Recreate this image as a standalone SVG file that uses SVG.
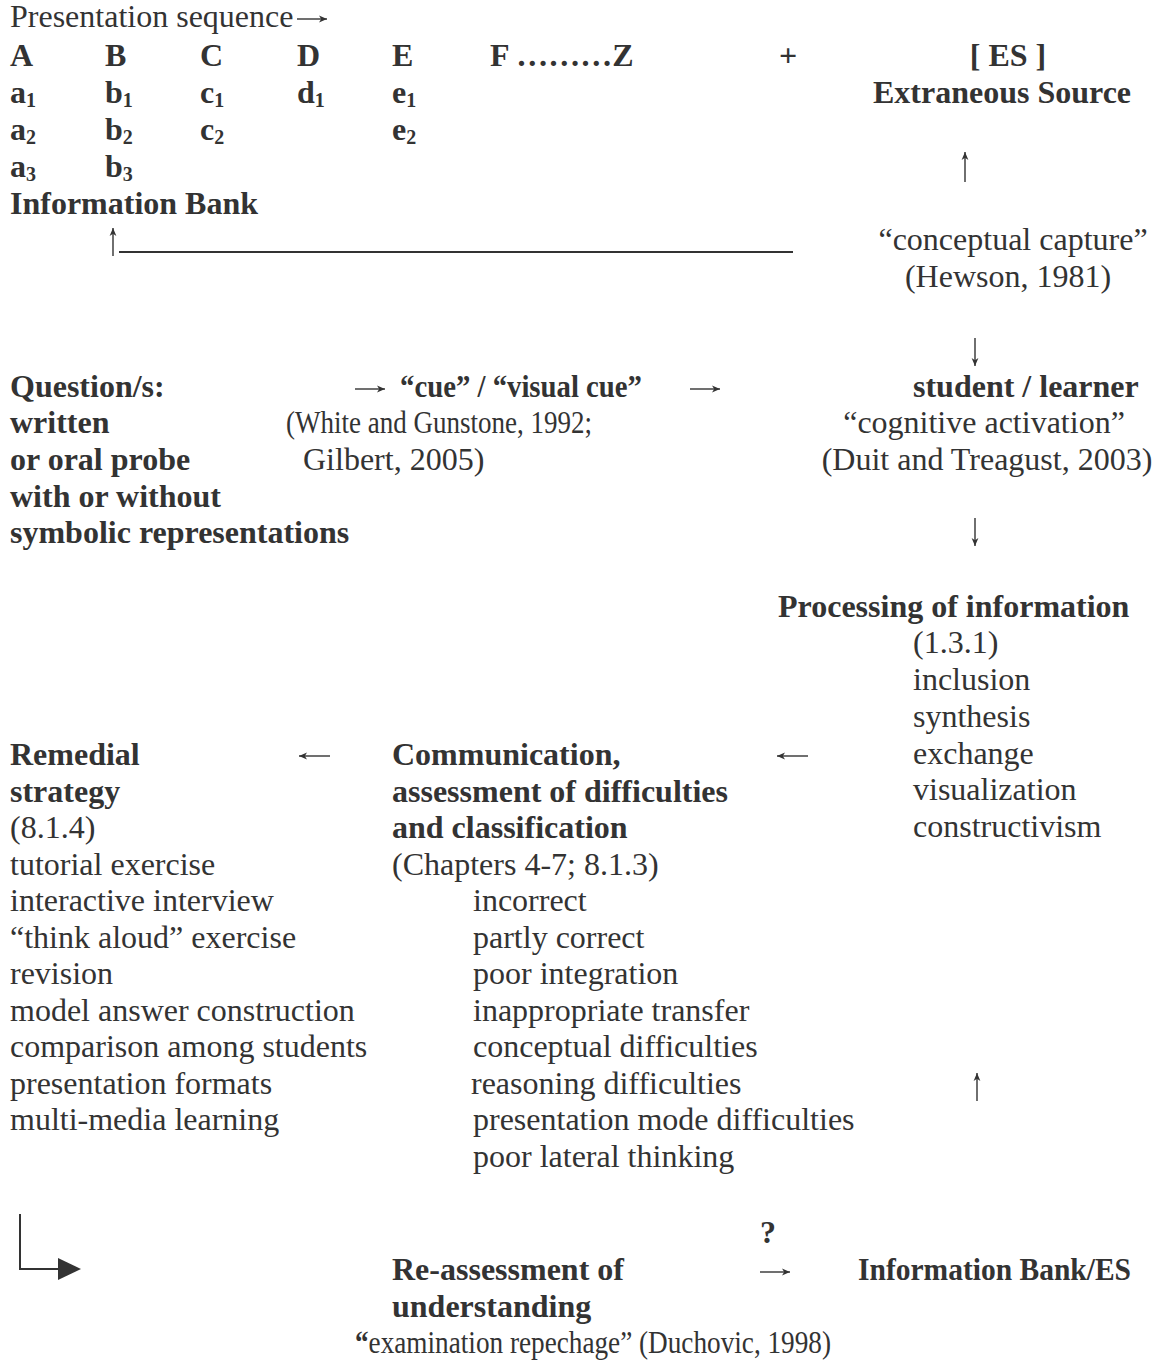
<svg xmlns="http://www.w3.org/2000/svg" width="1162" height="1362" viewBox="0 0 1162 1362">
  <style>
    text { font-family: "Liberation Serif", "Times New Roman", serif; font-size: 32px; fill: #333; }
    .b { font-weight: bold; }
    .s { font-size: 20px; }
    .line { stroke: #333; stroke-width: 2; fill: none; }
    .arr { stroke: #333; stroke-width: 1.4; fill: none; marker-end: url(#ah); }
  </style>
  <defs>
    <marker id="ah" viewBox="0 0 8 8" refX="8" refY="4" markerWidth="8" markerHeight="8" markerUnits="userSpaceOnUse" orient="auto">
      <path d="M0,0.6 L8,4 L0,7.4 L2.2,4 z" fill="#333"/>
    </marker>
  </defs>
  <rect width="1162" height="1362" fill="#fff"/>

  <!-- information bank: presentation sequence -->
  <g id="information-bank">
    <text x="10" y="27">Presentation sequence</text>
    <text class="b" x="10" y="66">A</text>
    <text class="b" x="105" y="66">B</text>
    <text class="b" x="200" y="66">C</text>
    <text class="b" x="297" y="66">D</text>
    <text class="b" x="392" y="66">E</text>
    <text class="b" x="490" y="66">F ………Z</text>
    <text class="b" x="10" y="103">a<tspan class="s" dy="4">1</tspan></text>
    <text class="b" x="105" y="103">b<tspan class="s" dy="4">1</tspan></text>
    <text class="b" x="200" y="103">c<tspan class="s" dy="4">1</tspan></text>
    <text class="b" x="297" y="103">d<tspan class="s" dy="4">1</tspan></text>
    <text class="b" x="392" y="103">e<tspan class="s" dy="4">1</tspan></text>
    <text class="b" x="10" y="140">a<tspan class="s" dy="4">2</tspan></text>
    <text class="b" x="105" y="140">b<tspan class="s" dy="4">2</tspan></text>
    <text class="b" x="200" y="140">c<tspan class="s" dy="4">2</tspan></text>
    <text class="b" x="392" y="140">e<tspan class="s" dy="4">2</tspan></text>
    <text class="b" x="10" y="177">a<tspan class="s" dy="4">3</tspan></text>
    <text class="b" x="105" y="177">b<tspan class="s" dy="4">3</tspan></text>
    <text class="b" x="10" y="214">Information Bank</text>
  </g>

  <g id="plus">
    <text class="b" x="779" y="66">+</text>
  </g>

  <!-- extraneous source -->
  <g id="extraneous-source">
    <text class="b" x="1008" y="66" text-anchor="middle">[ ES ]</text>
    <text class="b" x="1002" y="103" text-anchor="middle">Extraneous Source</text>
  </g>

  <g id="conceptual-capture">
    <text x="1013" y="250" text-anchor="middle">“conceptual capture”</text>
    <text x="1008" y="287" text-anchor="middle">(Hewson, 1981)</text>
  </g>

  <!-- question / cue / learner row -->
  <g id="question">
    <text class="b" x="10" y="397">Question/s:</text>
    <text class="b" x="10" y="433">written</text>
    <text class="b" x="10" y="470">or oral probe</text>
    <text class="b" x="10" y="507">with or without</text>
    <text class="b" x="10" y="543">symbolic representations</text>
  </g>

  <g id="cue">
    <text class="b" x="400" y="397" textLength="242" lengthAdjust="spacingAndGlyphs">“cue” / “visual cue”</text>
    <text x="286" y="433" textLength="306" lengthAdjust="spacingAndGlyphs">(White and Gunstone, 1992;</text>
    <text x="303" y="470">Gilbert, 2005)</text>
  </g>

  <g id="learner">
    <text class="b" x="913" y="397">student / learner</text>
    <text x="984" y="433" text-anchor="middle">“cognitive activation”</text>
    <text x="987" y="470" text-anchor="middle">(Duit and Treagust, 2003)</text>
  </g>

  <!-- processing -->
  <g id="processing">
    <text class="b" x="778" y="617">Processing of information</text>
    <text x="913" y="653">(1.3.1)</text>
    <text x="913" y="690">inclusion</text>
    <text x="913" y="727">synthesis</text>
    <text x="913" y="764">exchange</text>
    <text x="913" y="800">visualization</text>
    <text x="913" y="837">constructivism</text>
  </g>

  <!-- communication and assessment -->
  <g id="communication">
    <text class="b" x="392" y="765">Communication,</text>
    <text class="b" x="392" y="801.5">assessment of difficulties</text>
    <text class="b" x="392" y="838">and classification</text>
    <text x="392" y="874.5">(Chapters 4-7; 8.1.3)</text>
    <text x="473" y="911">incorrect</text>
    <text x="473" y="947.5">partly correct</text>
    <text x="473" y="984">poor integration</text>
    <text x="473" y="1020.5">inappropriate transfer</text>
    <text x="473" y="1057">conceptual difficulties</text>
    <text x="471" y="1093.5">reasoning difficulties</text>
    <text x="473" y="1130">presentation mode difficulties</text>
    <text x="473" y="1166.5">poor lateral thinking</text>
  </g>

  <!-- remedial strategy -->
  <g id="remedial">
    <text class="b" x="10" y="765">Remedial</text>
    <text class="b" x="10" y="801.5">strategy</text>
    <text x="10" y="838">(8.1.4)</text>
    <text x="10" y="874.5">tutorial exercise</text>
    <text x="10" y="911">interactive interview</text>
    <text x="10" y="947.5">“think aloud” exercise</text>
    <text x="10" y="984">revision</text>
    <text x="10" y="1020.5">model answer construction</text>
    <text x="10" y="1057">comparison among students</text>
    <text x="10" y="1093.5">presentation formats</text>
    <text x="10" y="1130">multi-media learning</text>
  </g>

  <!-- re-assessment -->
  <g id="reassessment">
    <text class="b" x="392" y="1280">Re-assessment of</text>
    <text class="b" x="392" y="1317">understanding</text>
    <text x="355" y="1353" textLength="476" lengthAdjust="spacingAndGlyphs"><tspan class="b">“</tspan>examination repechage” (Duchovic, 1998)</text>
  </g>

  <g id="information-bank-es">
    <text class="b" x="858" y="1280" textLength="273" lengthAdjust="spacingAndGlyphs">Information Bank/ES</text>
  </g>

  <!-- connectors -->
  <g id="connectors">
    <path class="arr" d="M297,19 H327"/>
    <path class="arr" d="M965,182 V152"/>
    <path class="arr" d="M113,256 V228"/>
    <line class="line" x1="119" y1="252" x2="793" y2="252" stroke-width="1.6"/>
    <path class="arr" d="M975,338 V366"/>
    <path class="arr" d="M355,389 H385"/>
    <path class="arr" d="M690,389 H720"/>
    <path class="arr" d="M975,518 V546"/>
    <path class="arr" d="M330,756 H299"/>
    <path class="arr" d="M808,756 H777"/>
    <path class="arr" d="M977,1101 V1073"/>
    <text class="b" x="768" y="1243" text-anchor="middle">?</text>
    <path class="arr" d="M760,1272 H790"/>
    <path class="line" d="M20,1214 V1269 H58"/>
    <polygon points="58,1258 81,1269 58,1280" fill="#333"/>
  </g>
</svg>
